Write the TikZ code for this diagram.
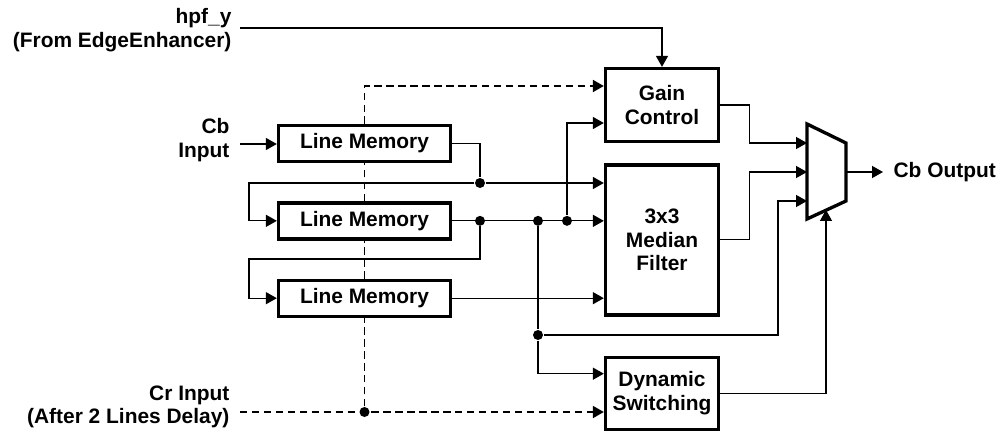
\documentclass[tikz,border=0pt]{standalone}
\usepackage{fontspec}
\setmainfont{Liberation Sans}
\usetikzlibrary{positioning, arrows.meta}

\begin{document}
\begin{tikzpicture}[>={Triangle[length=6.2pt,width=6.8pt]}, line width=0.7pt,
    font=\fontsize{11.9}{13.5}\selectfont\bfseries,
    block/.style={draw, rectangle, line width=1.9pt, minimum width=3.44cm, minimum height=0.72cm, align=center},
    proc/.style={block, minimum width=2.26cm},
    lbl/.style={anchor=east, align=right, inner sep=0pt},
    dot/.style={circle, fill, inner sep=0pt, minimum size=0.2cm},
    ctrl/.style={dash pattern=on 4.2pt off 2.6pt, line width=1pt}]
    \useasboundingbox (0,0) rectangle (20,-8.66);

    % inputs
    \node [lbl] (hpf) at (4.64,-0.6) {hpf\_y\\(From EdgeEnhancer)};
    \node [lbl] (cbin) at (4.6,-2.8) {Cb\\Input};
    \node [lbl] (crin) at (4.6,-8.14) {Cr Input\\(After 2 Lines Delay)};
    \coordinate (hpfstart) at (4.8,-0.56);
    \coordinate (cbstart) at (4.8,-2.88);
    \coordinate (crstart) at (4.8,-8.24);

    % line memories
    \node [block] (lm1) at (7.29,-2.87) {Line Memory};
    \node [block, below=0.76cm of lm1] (lm2) {Line Memory};
    \node [block, below=0.76cm of lm2] (lm3) {Line Memory};

    \node [proc, minimum height=1.46cm] (gain) at (13.24,-2.10) {Gain\\Control};
    \node [proc, minimum height=3.0cm, below=0.4cm of gain] (median) {3x3\\Median\\Filter};
    \node [proc, minimum height=1.44cm, below=0.78cm of median] (dyn) {Dynamic\\Switching};

    % mux
    \draw [line width=1.9pt] (16.14,-2.48) -- (16.92,-2.86) -- (16.92,-4.02) -- (16.14,-4.38) -- cycle;
    \coordinate (mi1) at (16.14,-2.86);
    \coordinate (mi2) at (16.14,-3.44);
    \coordinate (mi3) at (16.14,-4.02);
    \coordinate (msel) at (16.52,-4.20);
    \coordinate (mout) at (16.92,-3.44);
    \node [anchor=west, inner xsep=0.2cm, inner ysep=0pt] (cbout) at (17.66,-3.44) {Cb Output};

    % taps
    \node [dot] (d1) at (9.6,-3.66) {};
    \node [dot] (d2) at (d1 |- lm2.east) {};
    \node [dot] (d3) at (10.76,0 |- lm2.east) {};
    \node [dot] (d4) at (11.34,0 |- lm2.east) {};
    \node [dot] (d5) at (10.76,-6.7) {};
    \node [dot] (crdot) at (lm3.south |- crstart) {};
    \coordinate (fb1) at (4.98,-3.66);
    \coordinate (fb2) at (4.98,-5.18);
    \coordinate (t3) at (15.56,-6.7);

    \draw [->] (hpfstart) -| (gain);
    \draw [->] (cbstart) -- (cbstart -| lm1.west);
    \draw (lm1.east) -| (d1);
    \draw [->] (d1) -- (d1 -| median.west);
    \draw [->] (d1) -- (fb1) |- (lm2.west);
    \draw [->] (lm2.east) -- (lm2.east -| median.west);
    \draw [->] (d2) |- (fb2) |- (lm3.west);
    \draw [->] (lm3.east) -- (lm3.east -| median.west);
    \draw [->] (d4) |- ([yshift=-0.36cm]gain.west);
    \draw [->] (d3) -- (d5) |- ([yshift=0.39cm]dyn.west);
    \draw [->] (d5) -- (t3) |- (mi3);

    \draw [->] (gain.east) -- ++(0.58,0) |- (mi1);
    \draw [->] (median.east) -- ++(0.58,0) |- (mi2);
    \draw [->] (dyn.east) -| (msel);
    \draw [->] (mout) -- (cbout);

    % Cr path
    \draw [ctrl] (crdot) -- (lm3.south) (lm3.north) -- (lm2.south) (lm2.north) -- (lm1.south);
    \draw [ctrl, ->] (lm1.north) |- ([yshift=0.38cm]gain.west);
    \draw [ctrl, ->] (crstart) -- (crstart -| dyn.west);
\end{tikzpicture}
\end{document}
